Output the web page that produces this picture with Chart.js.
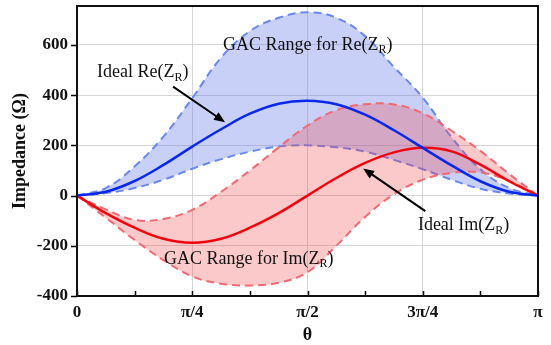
<!DOCTYPE html>
<html>
<head>
<meta charset="utf-8">
<script src="https://cdn.jsdelivr.net/npm/chart.js@4.4.0/dist/chart.umd.min.js"></script>
<style>
  html, body { margin: 0; padding: 0; background: #fff; }
  #wrap { width: 551px; height: 345px; }
</style>
</head>
<body>
<div id="wrap"><canvas id="grafico" width="551" height="345"></canvas></div>
<script>
// theta in degrees (0 .. 180 = 0 .. pi), read every pi/16
const thetaDeg = [0, 11.25, 22.5, 33.75, 45, 56.25, 67.5, 78.75, 90, 101.25, 112.5, 123.75, 135, 146.25, 157.5, 168.75, 180];

const reIdeal = [0, 15, 58, 122, 195, 264, 326, 366, 378, 364, 322, 260, 190, 120, 57, 15, 0];
const reUpper = [0, 30, 116, 235, 388, 549, 655, 708, 730, 708, 635, 512, 390, 232, 105, 30, 0];
const reLower = [0, 10, 30, 63, 107, 145, 175, 195, 200, 192, 175, 142, 105, 63, 27, 8, 0];

const imIdeal = [0, -70, -128, -172, -188, -172, -128, -70, 0, 70, 130, 172, 190, 176, 123, 57, 0];
const imUpper = [0, -55, -97, -93, -57, 15, 100, 192, 279, 340, 364, 363, 328, 258, 178, 86, 0];
const imLower = [0, -88, -177, -257, -322, -351, -358, -347, -305, -200, -85, 5, 63, 90, 92, 58, 0];

const xTickValues = [0, 45, 90, 135, 180];
const xTickLabels = ['0', 'π/4', 'π/2', '3π/4', 'π'];
const xMinorTicks = [22.5, 67.5, 112.5, 157.5];
const yTickValues = [-400, -200, 0, 200, 400, 600];

const FONT = "'Liberation Serif', 'Times New Roman', serif";

function toPoints(values) {
    return thetaDeg.map((t, i) => ({ x: t, y: values[i] }));
}

function textWithSub(ctx, parts, x, y, size) {
    let cx = x;
    parts.forEach(([txt, sub]) => {
        ctx.font = (sub ? Math.round(size * 0.68) : size) + 'px ' + FONT;
        ctx.fillText(txt, cx, sub ? y + 3.5 : y);
        cx += ctx.measureText(txt).width;
    });
}

function arrow(ctx, x1, y1, x2, y2) {
    const ang = Math.atan2(y2 - y1, x2 - x1);
    const len = 11, half = 4.5;
    ctx.beginPath();
    ctx.moveTo(x1, y1);
    ctx.lineTo(x2 - Math.cos(ang) * len * 0.8, y2 - Math.sin(ang) * len * 0.8);
    ctx.stroke();
    ctx.beginPath();
    ctx.moveTo(x2, y2);
    ctx.lineTo(x2 - Math.cos(ang) * len - Math.sin(ang) * half, y2 - Math.sin(ang) * len + Math.cos(ang) * half);
    ctx.lineTo(x2 - Math.cos(ang) * len + Math.sin(ang) * half, y2 - Math.sin(ang) * len - Math.cos(ang) * half);
    ctx.closePath();
    ctx.fill();
}

const decoracao = {
    id: 'decoracao',
    afterDraw(chart) {
        const { ctx, chartArea: a, scales: { x, y } } = chart;
        ctx.save();

        // tick marks: x inward, y outward
        ctx.strokeStyle = '#000';
        ctx.lineWidth = 1.5;
        ctx.beginPath();
        xTickValues.concat(xMinorTicks).forEach(v => {
            const px = Math.round(x.getPixelForValue(v)) + 0.5;
            ctx.moveTo(px, a.bottom);
            ctx.lineTo(px, a.bottom - 5);
        });
        yTickValues.forEach(v => {
            const py = Math.round(y.getPixelForValue(v)) + 0.5;
            ctx.moveTo(a.left - 6, py);
            ctx.lineTo(a.left, py);
        });
        ctx.stroke();

        ctx.lineWidth = 2;
        ctx.strokeStyle = '#111';
        ctx.strokeRect(a.left, a.top, a.right - a.left, a.bottom - a.top);

        // annotations
        ctx.fillStyle = '#111';
        ctx.textBaseline = 'alphabetic';
        ctx.textAlign = 'left';
        const px = v => x.getPixelForValue(v);
        const py = v => y.getPixelForValue(v);
        textWithSub(ctx, [['GAC Range for Re(Z', false], ['R', true], [')', false]], px(57), py(580), 18);
        textWithSub(ctx, [['Ideal Re(Z', false], ['R', true], [')', false]], px(7.8), py(472), 18);
        textWithSub(ctx, [['Ideal Im(Z', false], ['R', true], [')', false]], px(133.1), py(-138), 18);
        textWithSub(ctx, [['GAC Range for Im(Z', false], ['R', true], [')', false]], px(34), py(-272), 18);

        ctx.strokeStyle = '#000';
        ctx.fillStyle = '#000';
        ctx.lineWidth = 2;
        arrow(ctx, px(37.5), py(434), px(57.8), py(292));
        arrow(ctx, px(136), py(-62), px(111.7), py(108));

        // axis titles
        ctx.fillStyle = '#111';
        ctx.font = 'bold 18px ' + FONT;
        ctx.textAlign = 'center';
        ctx.textBaseline = 'middle';
        ctx.fillText('θ', (a.left + a.right) / 2, 335);
        ctx.translate(20, (a.top + a.bottom) / 2);
        ctx.rotate(-Math.PI / 2);
        ctx.fillText('Impedance (Ω)', 0, 0);
        ctx.restore();
    }
};

document.addEventListener('DOMContentLoaded', () => {
    const canvas = document.getElementById('grafico');

    const blueDash = 'rgb(105,135,240)';
    const redDash = 'rgb(240,105,115)';
    const blueFill = 'rgba(100,120,235,0.35)';
    const redFill = 'rgba(240,60,60,0.28)';

    const curva = { pointRadius: 0, tension: 0.4 };
    const dashed = { borderWidth: 2, borderDash: [8, 5], ...curva };

    new Chart(canvas.getContext('2d'), {
        type: 'line',
        data: {
            datasets: [
                { label: 'Ideal Re(ZR)', data: toPoints(reIdeal), borderColor: 'rgb(10,40,235)', borderWidth: 2.5, fill: false, ...curva },
                { label: 'Ideal Im(ZR)', data: toPoints(imIdeal), borderColor: 'rgb(240,5,15)', borderWidth: 2.5, fill: false, ...curva },
                { label: 'GAC Im upper', data: toPoints(imUpper), borderColor: redDash, fill: false, ...dashed },
                { label: 'GAC Im lower', data: toPoints(imLower), borderColor: redDash, backgroundColor: redFill, fill: '-1', ...dashed },
                { label: 'GAC Re upper', data: toPoints(reUpper), borderColor: blueDash, fill: false, ...dashed },
                { label: 'GAC Re lower', data: toPoints(reLower), borderColor: blueDash, backgroundColor: blueFill, fill: '-1', ...dashed }
            ]
        },
        options: {
            responsive: false,
            animation: false,
            devicePixelRatio: 1,
            layout: { padding: { top: 6, right: 13, left: 0, bottom: 0 } },
            plugins: { legend: { display: false }, tooltip: { enabled: false } },
            scales: {
                x: {
                    type: 'linear', min: 0, max: 180,
                    afterBuildTicks: s => { s.ticks = xTickValues.map(v => ({ value: v })); },
                    afterFit: s => { s.height = 49; s.paddingLeft = 0; s.paddingRight = 0; },
                    ticks: {
                        callback: v => xTickLabels[xTickValues.indexOf(v)],
                        font: { family: FONT, size: 17, weight: 'bold' }, color: '#111',
                        padding: 6, maxRotation: 0, autoSkip: false
                    },
                    grid: {
                        color: c => (c.tick && c.tick.value > 0 && c.tick.value < 180) ? '#d6d6d6' : 'rgba(0,0,0,0)',
                        drawTicks: false, lineWidth: 1
                    },
                    border: { display: false }
                },
                y: {
                    min: -400, max: 755,
                    afterBuildTicks: s => { s.ticks = yTickValues.map(v => ({ value: v })); },
                    afterFit: s => { s.width = 77; s.paddingTop = 0; s.paddingBottom = 0; },
                    ticks: {
                        font: { family: FONT, size: 17, weight: 'bold' }, color: '#111', padding: 9
                    },
                    grid: {
                        color: c => (c.tick && c.tick.value > -400) ? '#d6d6d6' : 'rgba(0,0,0,0)',
                        drawTicks: false, lineWidth: 1
                    },
                    border: { display: false }
                }
            }
        },
        plugins: [decoracao]
    });
});
</script>
</body>
</html>
